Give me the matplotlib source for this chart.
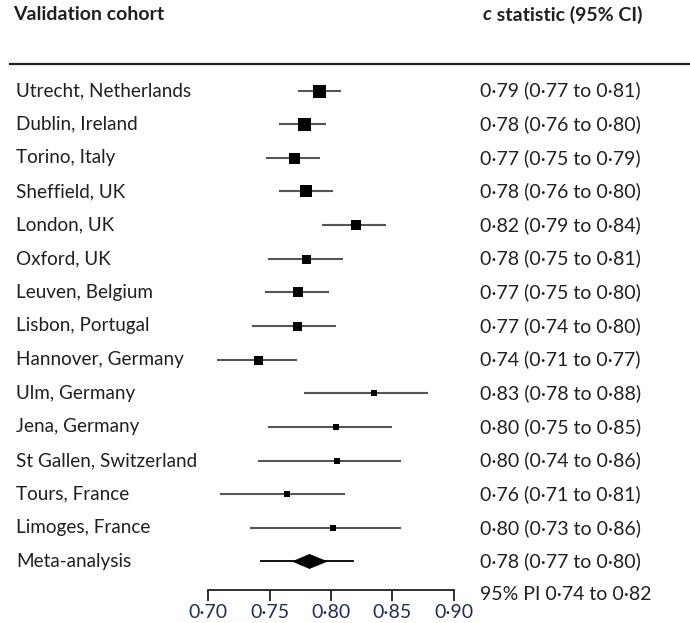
import matplotlib
matplotlib.use("Agg")
import matplotlib.pyplot as plt
from matplotlib.patches import Polygon
from matplotlib.lines import Line2D
from matplotlib.transforms import blended_transform_factory

plt.rcParams['font.family'] = ['Lato', 'DejaVu Sans']

cohorts = ["Utrecht, Netherlands", "Dublin, Ireland", "Torino, Italy", "Sheffield, UK",
           "London, UK", "Oxford, UK", "Leuven, Belgium", "Lisbon, Portugal",
           "Hannover, Germany", "Ulm, Germany", "Jena, Germany", "St Gallen, Switzerland",
           "Tours, France", "Limoges, France"]
estimate = [0.790, 0.778, 0.770, 0.780, 0.820, 0.780, 0.773, 0.772,
            0.741, 0.835, 0.804, 0.805, 0.764, 0.802]
ci_low = [0.773, 0.758, 0.747, 0.758, 0.793, 0.749, 0.746, 0.736,
          0.707, 0.778, 0.749, 0.741, 0.710, 0.734]
ci_high = [0.808, 0.796, 0.791, 0.802, 0.845, 0.810, 0.798, 0.804,
           0.772, 0.879, 0.850, 0.857, 0.811, 0.857]
weights = [13, 13, 11, 11.5, 10, 9, 10, 9, 9, 6, 6, 6, 6, 6]
ci_text = ["0·79 (0·77 to 0·81)", "0·78 (0·76 to 0·80)", "0·77 (0·75 to 0·79)",
           "0·78 (0·76 to 0·80)", "0·82 (0·79 to 0·84)", "0·78 (0·75 to 0·81)",
           "0·77 (0·75 to 0·80)", "0·77 (0·74 to 0·80)", "0·74 (0·71 to 0·77)",
           "0·83 (0·78 to 0·88)", "0·80 (0·75 to 0·85)", "0·80 (0·74 to 0·86)",
           "0·76 (0·71 to 0·81)", "0·80 (0·73 to 0·86)"]
meta_label = "Meta-analysis"
meta_est = 0.7825
meta_ci = (0.769, 0.7966)
meta_pi = (0.7432, 0.818)
meta_text = "0·78 (0·77 to 0·80)"
pi_text = "95% PI 0·74 to 0·82"
xticks = [0.70, 0.75, 0.80, 0.85, 0.90]
xticklabels = ["0·70", "0·75", "0·80", "0·85", "0·90"]

W, H = 690, 623
FS = 14
FSL = 13.6
fig = plt.figure(figsize=(W / 100, H / 100), dpi=100)
top_px, bot_px = 63.5, 589.5
ax = fig.add_axes([208 / W, 1 - bot_px / H, 246 / W, (bot_px - top_px) / H])

row_px0, row_step = 90.5, 33.64
n = len(cohorts)
y_top = 0 - (row_px0 - top_px) / row_step
y_bot = n + (bot_px - (row_px0 + n * row_step)) / row_step
ax.set_xlim(0.70, 0.90)
ax.set_ylim(y_bot, y_top)

TXT = '#231f20'
ys = list(range(n))
for y, lo, hi in zip(ys, ci_low, ci_high):
    ax.plot([lo, hi], [y, y], color='#555555', lw=1.5, solid_capstyle='butt', clip_on=False, zorder=2)
for y, e, w in zip(ys, estimate, weights):
    ax.plot([e], [y], marker='s', ms=w * 0.72, color='black', mec='black', mew=0, clip_on=False, zorder=3)

ym = n
ax.plot(list(meta_pi), [ym, ym], color='black', lw=1.3, clip_on=False, zorder=2)
dh = 0.21
ax.add_patch(Polygon([[meta_ci[0], ym], [meta_est, ym - dh], [meta_ci[1], ym], [meta_est, ym + dh]],
                     closed=True, facecolor='black', edgecolor='black', lw=0.5, zorder=3, clip_on=False))

for s in ['top', 'right', 'left']:
    ax.spines[s].set_visible(False)
ax.spines['bottom'].set_linewidth(1.3)
ax.spines['bottom'].set_color('#231f20')
ax.set_yticks([])
ax.set_xticks(xticks)
ax.set_xticklabels(xticklabels, fontsize=FS, color='#1e2d5a')
ax.tick_params(axis='x', direction='out', length=8, width=1.3, color='#231f20', pad=2.5)
ax.patch.set_alpha(0)

tl = blended_transform_factory(fig.transFigure, ax.transData)
for y, lab, ct in zip(ys, cohorts, ci_text):
    ax.text(16 / W, y, lab, transform=tl, ha='left', va='center', fontsize=FSL, color=TXT)
    ax.text(480 / W, y, ct, transform=tl, ha='left', va='center', fontsize=FS, color=TXT)
ax.text(16 / W, ym, meta_label, transform=tl, ha='left', va='center', fontsize=FSL, color=TXT)
ax.text(480 / W, ym, meta_text, transform=tl, ha='left', va='center', fontsize=FS, color=TXT)
ax.text(480 / W, 1 - 594 / H, pi_text, transform=fig.transFigure, ha='left', va='center', fontsize=FS, color=TXT)

fig.text(13 / W, 1 - 15 / H, "Validation cohort", ha='left', va='center', fontsize=FS,
         fontweight='bold', color=TXT)
t1 = fig.text(483 / W, 1 - 15 / H, "c", ha='left', va='center', fontsize=FS,
              fontweight='bold', fontstyle='italic', color=TXT)
fig.canvas.draw()
ax.annotate(" statistic (95% CI)", xy=(1, 0.5), xycoords=t1, ha='left', va='center',
            fontsize=FS, fontweight='bold', color=TXT, annotation_clip=False)

fig.add_artist(Line2D([10 / W, 1.0], [1 - top_px / H, 1 - top_px / H], transform=fig.transFigure,
                      color='#231f20', lw=1.6))

fig.savefig("out.png", dpi=100)
